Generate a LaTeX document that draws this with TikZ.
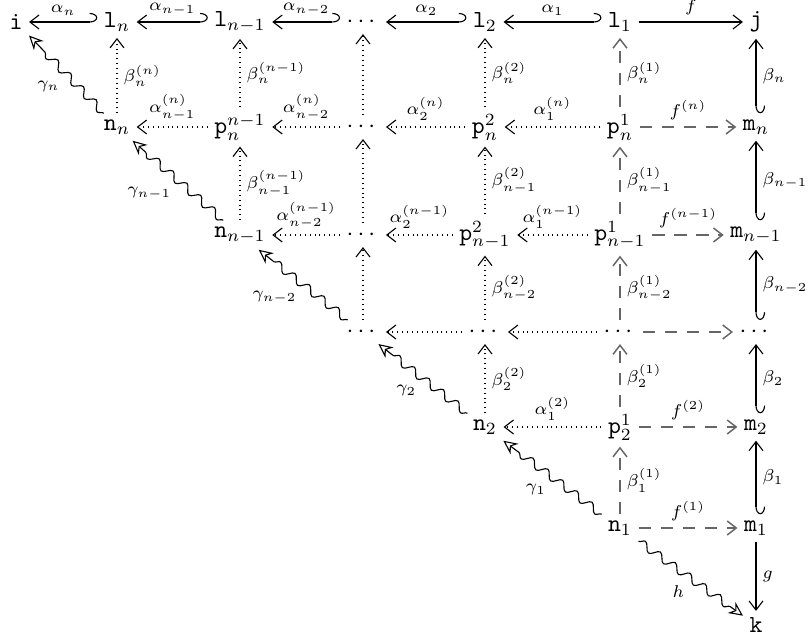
\documentclass[tikz,border=0pt]{standalone}
\usepackage{amsmath,amssymb}
\usetikzlibrary{arrows.meta,decorations.pathmorphing}
\tikzset{
  obj/.style={inner sep=2.5pt},
  ar/.style ={-{Straight Barb[length=1.3mm,width=2mm]},line width=.45pt},
  har/.style={{Hooks[left,length=1.1mm,width=2.6mm]}-{Straight Barb[length=1.3mm,width=2mm]},line width=.45pt},
  dtt/.style={ar,dash pattern=on .4pt off 1.6pt},
  dsh/.style={ar,draw=black!60,dash pattern=on 5pt off 4pt,line width=.6pt},
  sq/.style ={-{Stealth[open,length=2mm,width=1.9mm]},line width=.45pt,decorate,
              decoration={snake,amplitude=1.6pt,segment length=7.5pt,post length=2.2mm}},
  lbl/.style={font=\scriptsize,inner sep=2.5pt},
}
\begin{document}
\begin{tikzpicture}[x=.408pt,y=-.408pt]
  \useasboundingbox (0,0) rectangle (808,639);
  % top row
  \node[obj] (i)  at (16,22)  {$\mathtt{i}$};
  \node[obj] (ln) at (117,22) {$\mathtt{l}_n$};
  \node[obj] (lm) at (240,22) {$\mathtt{l}_{n-1}$};
  \node[obj] (ld) at (363,22) {$\cdots$};
  \node[obj] (l2) at (485,22) {$\mathtt{l}_2$};
  \node[obj] (l1) at (620,22) {$\mathtt{l}_1$};
  \node[obj] (j)  at (756,22) {$\mathtt{j}$};
  % row n
  \node[obj] (nn)  at (117,127) {$\mathtt{n}_n$};
  \node[obj] (pnm) at (240,127) {$\mathtt{p}^{n-1}_n$};
  \node[obj] (pnd) at (363,127) {$\cdots$};
  \node[obj] (pn2) at (485,127) {$\mathtt{p}^2_n$};
  \node[obj] (pn1) at (620,127) {$\mathtt{p}^1_n$};
  \node[obj] (mn)  at (756,127) {$\mathtt{m}_n$};
  % row n-1
  \node[obj] (nm)  at (240,235) {$\mathtt{n}_{n-1}$};
  \node[obj] (pmd) at (363,235) {$\cdots$};
  \node[obj] (pm2) at (485,235) {$\mathtt{p}^2_{n-1}$};
  \node[obj] (pm1) at (620,235) {$\mathtt{p}^1_{n-1}$};
  \node[obj] (mm)  at (756,235) {$\mathtt{m}_{n-1}$};
  % dots row
  \node[obj] (d3) at (363,332) {$\cdots$};
  \node[obj] (d4) at (485,332) {$\cdots$};
  \node[obj] (d5) at (620,332) {$\cdots$};
  \node[obj] (d6) at (756,332) {$\cdots$};
  % rows 2, 1
  \node[obj] (n2)  at (485,427) {$\mathtt{n}_2$};
  \node[obj] (p21) at (620,427) {$\mathtt{p}^1_2$};
  \node[obj] (m2)  at (756,427) {$\mathtt{m}_2$};
  \node[obj] (n1)  at (620,528) {$\mathtt{n}_1$};
  \node[obj] (m1)  at (756,528) {$\mathtt{m}_1$};
  \node[obj] (k)   at (756,625) {$\mathtt{k}$};

  % hooked maps
  \foreach \a/\b/\t in {ln/i/n,lm/ln/{n-1},ld/lm/{n-2},l2/ld/2,l1/l2/1}
    \draw[har] (\a) -- node[lbl,above]{$\alpha_{\t}$} (\b);
  \foreach \a/\b/\t in {mn/j/n,mm/mn/{n-1},d6/mm/{n-2},m2/d6/2,m1/m2/1}
    \draw[har] (\a) -- node[lbl,right]{$\beta_{\t}$} (\b);
  \draw[ar] (l1) -- node[lbl,above]{$f$} (j);
  \draw[ar] (m1) -- node[lbl,right]{$g$} (k);

  % dotted verticals
  \draw[dtt] (nn)  -- node[lbl,right]{$\beta^{(n)}_n$} (ln);
  \draw[dtt] (pnm) -- node[lbl,right]{$\beta^{(n-1)}_n$} (lm);
  \draw[dtt] (pnd) -- (ld);
  \draw[dtt] (pn2) -- node[lbl,right]{$\beta^{(2)}_n$} (l2);
  \draw[dtt] (nm)  -- node[lbl,right]{$\beta^{(n-1)}_{n-1}$} (pnm);
  \draw[dtt] (pmd) -- (pnd);
  \draw[dtt] (pm2) -- node[lbl,right]{$\beta^{(2)}_{n-1}$} (pn2);
  \draw[dtt] (d3)  -- (pmd);
  \draw[dtt] (d4)  -- node[lbl,right]{$\beta^{(2)}_{n-2}$} (pm2);
  \draw[dtt] (n2)  -- node[lbl,right]{$\beta^{(2)}_2$} (d4);
  % dashed verticals
  \draw[dsh] (pn1) -- node[lbl,right]{$\beta^{(1)}_n$} (l1);
  \draw[dsh] (pm1) -- node[lbl,right]{$\beta^{(1)}_{n-1}$} (pn1);
  \draw[dsh] (d5)  -- node[lbl,right]{$\beta^{(1)}_{n-2}$} (pm1);
  \draw[dsh] (p21) -- node[lbl,right]{$\beta^{(1)}_2$} (d5);
  \draw[dsh] (n1)  -- node[lbl,right]{$\beta^{(1)}_1$} (p21);

  % dotted horizontals
  \draw[dtt] (pnm) -- node[lbl,above]{$\alpha^{(n)}_{n-1}$} (nn);
  \draw[dtt] (pnd) -- node[lbl,above]{$\alpha^{(n)}_{n-2}$} (pnm);
  \draw[dtt] (pn2) -- node[lbl,above]{$\alpha^{(n)}_2$} (pnd);
  \draw[dtt] (pn1) -- node[lbl,above]{$\alpha^{(n)}_1$} (pn2);
  \draw[dtt] (pmd) -- node[lbl,above]{$\alpha^{(n-1)}_{n-2}$} (nm);
  \draw[dtt] (pm2) -- node[lbl,above]{$\alpha^{(n-1)}_2$} (pmd);
  \draw[dtt] (pm1) -- node[lbl,above]{$\alpha^{(n-1)}_1$} (pm2);
  \draw[dtt] (d4)  -- (d3);
  \draw[dtt] (d5)  -- (d4);
  \draw[dtt] (p21) -- node[lbl,above]{$\alpha^{(2)}_1$} (n2);
  % dashed horizontals
  \draw[dsh] (pn1) -- node[lbl,above]{$f^{(n)}$} (mn);
  \draw[dsh] (pm1) -- node[lbl,above]{$f^{(n-1)}$} (mm);
  \draw[dsh] (d5)  -- (d6);
  \draw[dsh] (p21) -- node[lbl,above]{$f^{(2)}$} (m2);
  \draw[dsh] (n1)  -- node[lbl,above]{$f^{(1)}$} (m1);

  % squiggles
  \draw[sq] (nn) -- node[lbl,below left]{$\gamma_n$} (i);
  \draw[sq] (nm) -- node[lbl,below left]{$\gamma_{n-1}$} (nn);
  \draw[sq] (d3) -- node[lbl,below left]{$\gamma_{n-2}$} (nm);
  \draw[sq] (n2) -- node[lbl,below left]{$\gamma_2$} (d3);
  \draw[sq] (n1) -- node[lbl,below left]{$\gamma_1$} (n2);
  \draw[sq] (n1) -- node[lbl,below left]{$h$} (k);
\end{tikzpicture}
\end{document}
